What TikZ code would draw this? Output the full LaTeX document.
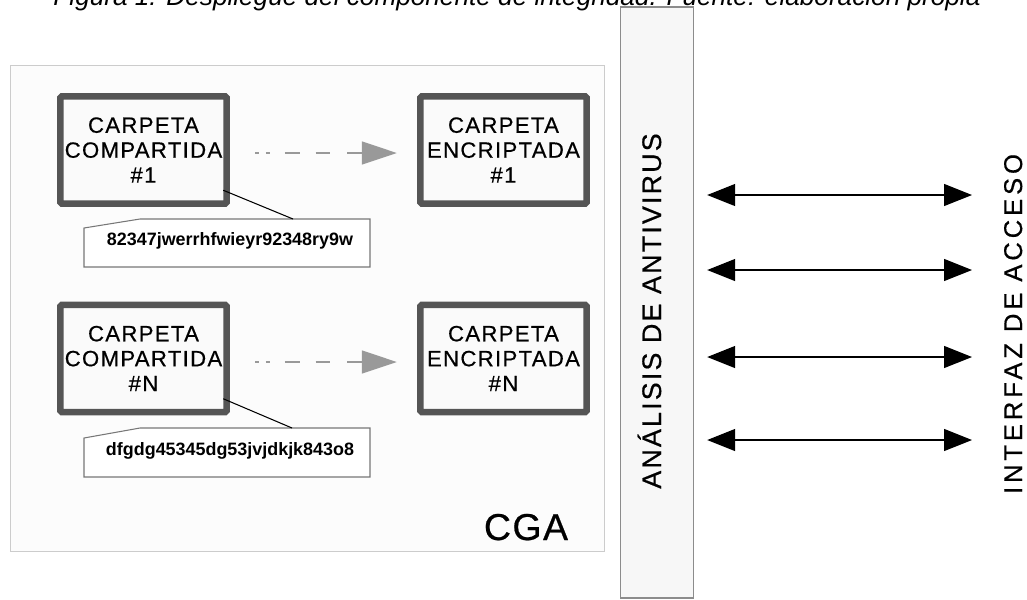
\documentclass[tikz,border=0pt]{standalone}
\usepackage{fontspec}
\setmainfont{Liberation Sans}
\newfontfamily\boxfam[LetterSpace=6,FakeBold=0.5]{Liberation Sans}
\newfontfamily\avfam[LetterSpace=8,FakeBold=0.5]{Liberation Sans}
\newfontfamily\iafam[LetterSpace=15,FakeBold=0.5]{Liberation Sans}
\newfontfamily\cgafam[LetterSpace=4,FakeBold=0.6]{Liberation Sans}
\usetikzlibrary{arrows.meta,calc}
\definecolor{boxborder}{HTML}{555555}
\definecolor{boxfill}{HTML}{FAFAFA}
\definecolor{cgaborder}{HTML}{CCCCCC}
\definecolor{cgafill}{HTML}{FCFCFC}
\definecolor{barfill}{HTML}{F7F7F7}
\definecolor{barborder}{HTML}{8C8C8C}
\definecolor{dashgray}{HTML}{999999}
\definecolor{noteborder}{HTML}{777777}
\begin{document}
\begin{tikzpicture}[x=0.02cm,y=-0.02cm,
  cgabox/.style={rectangle, draw=cgaborder, fill=cgafill, line width=0.6pt, inner sep=0pt,
    minimum width=11.9cm, minimum height=9.74cm},
  folder/.style={rectangle, draw=boxborder, fill=boxfill, line width=3.7pt, rounded corners=1pt,
    inner sep=0pt, minimum width=3.33cm, minimum height=2.15cm, align=center,
    font=\boxfam\fontsize{12.6pt}{14.2pt}\selectfont},
  notebox/.style={draw=noteborder, fill=white, line width=0.6pt},
  notetext/.style={font=\bfseries\fontsize{10.2pt}{12pt}\selectfont, inner sep=0pt},
  pointer/.style={draw=black, line width=0.6pt},
  dasharrow/.style={draw=dashgray, line width=0.85pt,
    dash pattern=on 2pt off 4pt on 2.3pt off 8.5pt on 8.5pt off 9pt on 8.5pt off 9.6pt on 40pt off 1pt,
    -{Triangle[length=0.7cm,width=0.46cm,fill=dashgray]}},
  dbl/.style={draw=black, line width=0.75pt,
    {Triangle[length=0.56cm,width=0.44cm]}-{Triangle[length=0.56cm,width=0.44cm]}},
  bar/.style={rectangle, draw=barborder, fill=barfill, line width=0.8pt, inner sep=0pt,
    minimum width=1.46cm, minimum height=11.82cm},
]
\useasboundingbox (0,0) rectangle (1027,599);
\clip (0,0) rectangle (1027,599);
\fill[white] (0,0) rectangle (1027,599);

% title (cut off at top)
\node[anchor=base, inner sep=0pt, font=\itshape\fontsize{14.9pt}{17pt}\selectfont] (title) at (517,5)
  {Figura 1: Despliegue del componente de integridad. Fuente: elaboración propia};

% CGA container
\node[cgabox] (cga) at (307.5,308.5) {};
\node[anchor=base, inner sep=0pt, font=\cgafam\fontsize{21.3pt}{24pt}\selectfont] (cgalabel) at (526,540) {CGA};

% folders
\node[folder] (c1) at (143.5,150) {CARPETA\\COMPARTIDA\\\#1};
\node[folder] (e1) at (503.5,150) {CARPETA\\ENCRIPTADA\\\#1};
\node[folder] (cN) at (143.5,358.5) {CARPETA\\COMPARTIDA\\\#N};
\node[folder] (eN) at (503.5,358.5) {CARPETA\\ENCRIPTADA\\\#N};

% dashed arrows
\draw[dasharrow] ($(c1.east)+(25.25,3)$) -- ($(e1.west)+(-20.25,3)$);
\draw[dasharrow] ($(cN.east)+(25.25,3.5)$) -- ($(eN.west)+(-20.25,3.5)$);

% notes
\draw[notebox] (84,228) -- (140,219) -- (370,219) -- (370,267) -- (84,267) -- cycle;
\node[notetext, anchor=base] (n1) at (230,245) {82347jwerrhfwieyr92348ry9w};
\coordinate (n1top) at (293,219);
\draw[pointer] ($(c1.south east)+(-6.75,-16.75)$) -- (n1top);

\draw[notebox] (84,438) -- (140,428) -- (370,428) -- (370,477) -- (84,477) -- cycle;
\node[notetext, anchor=base] (nN) at (230,455) {dfgdg45345dg53jvjdkjk843o8};
\coordinate (nNtop) at (292,428);
\draw[pointer] ($(cN.south east)+(-6.75,-16.75)$) -- (nNtop);

% antivirus bar
\node[bar] (av) at (657,302.5) {};
\node[rotate=90, anchor=base, inner sep=0pt, font=\avfam\fontsize{15.3pt}{18pt}\selectfont] (avl) at (661,311)
  {ANÁLISIS DE ANTIVIRUS};

% access interface label
\node[rotate=90, anchor=base, inner sep=0pt, font=\iafam\fontsize{14.6pt}{17pt}\selectfont] (ia) at (1022,324)
  {INTERFAZ DE ACCESO};

% double arrows
\foreach \yy in {195,270,357,440}{
  \draw[dbl] ([xshift=0.26cm]av.east |- 0,\yy) -- ([xshift=-1.0cm]ia.base |- 0,\yy);
}
\end{tikzpicture}
\end{document}
